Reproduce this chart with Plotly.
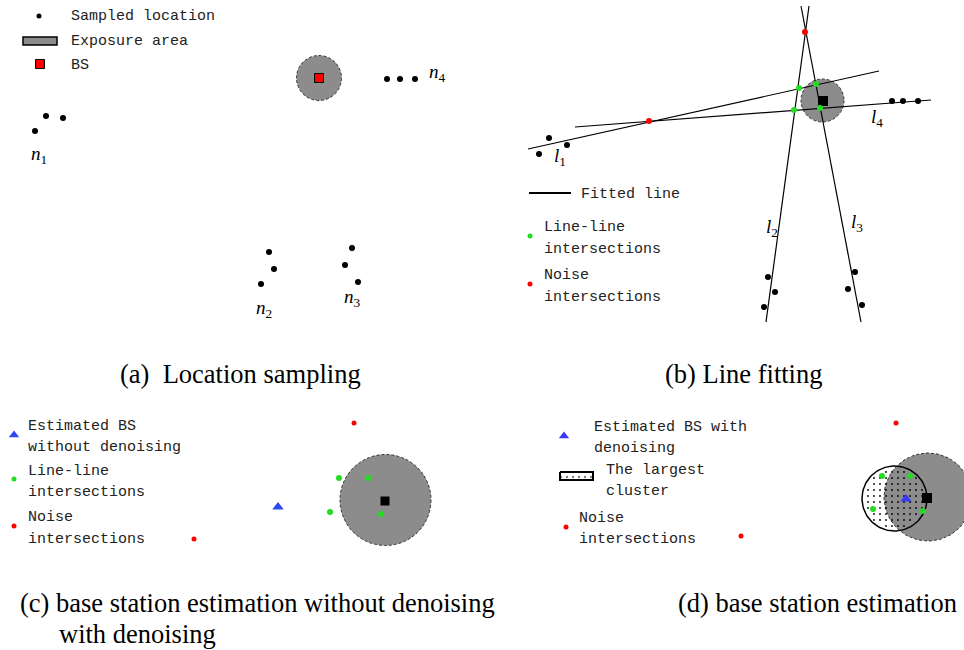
import numpy as np
import plotly.graph_objects as go

# ---------------- data (pixel-space diagram coordinates) ----------------
# Panel (a): sampled locations per node group
n1_x = [35, 46, 63]; n1_y = [131, 116, 118]
n2_x = [269, 274, 261]; n2_y = [252, 269, 284]
n3_x = [352, 345, 358]; n3_y = [248, 265, 282]
n4_x = [387, 400, 415]; n4_y = [79, 79, 79]
bs_a = (319, 78)
exposure_a = (319, 78, 22.5)
node_labels = [("n", "1", 29, 155), ("n", "2", 254, 309), ("n", "3", 342, 298), ("n", "4", 427, 73)]

# Panel (b): fitted lines (endpoints), samples, intersections
lines_b = {"l1": ((528, 149), (879, 71)), "l4": ((575, 127), (931, 100)),
           "l2": ((809, 6), (766, 322)), "l3": ((801, 6), (861, 322))}
samp_b_x = [549, 567, 539, 892, 903, 918, 768, 775, 764, 855, 848, 862]
samp_b_y = [138, 145, 154, 101, 101, 101, 277, 292, 307, 272, 289, 305]
green_b_x = [799, 816, 794, 820]; green_b_y = [88, 84, 110, 108]
red_b_x = [649, 805]; red_b_y = [121, 32]
bs_b = (823, 101)
exposure_b = (822.5, 100.5, 21.5)
line_labels = [("l", "1", 552, 157), ("l", "4", 869, 118), ("l", "2", 764, 228), ("l", "3", 849, 223)]

# Panel (c)
green_c_x = [339, 368, 330, 381]; green_c_y = [478, 478, 512, 514]
red_c_x = [354, 194]; red_c_y = [423, 539]
est_c = (278, 507)
bs_c = (385, 501)
exposure_c = (385.5, 500, 45.5)

# Panel (d)
green_d_x = [882, 910, 873, 923]; green_d_y = [476, 476, 509, 511]
red_d_x = [896, 741]; red_d_y = [423, 536]
est_d = (906, 499)
bs_d = (927, 498)
exposure_d = (928, 497, 44)
cluster_d = (894.5, 498.5, 32.5)

# Legend texts (text, x, y)
legend_texts = [
    ("Sampled location", 69, 16), ("Exposure area", 69, 41), ("BS", 69, 65),
    ("Fitted line", 579, 194), ("Line-line", 542, 227), ("intersections", 542, 249),
    ("Noise", 542, 275), ("intersections", 542, 297),
    ("Estimated BS", 26, 426), ("without denoising", 26, 447), ("Line-line", 26, 471),
    ("intersections", 26, 492), ("Noise", 26, 517), ("intersections", 26, 539),
    ("Estimated BS with", 592, 427), ("denoising", 592, 448), ("The largest", 604, 470),
    ("cluster", 604, 491), ("Noise", 577, 518), ("intersections", 577, 539),
]
captions = [("(a)&nbsp; Location sampling", 118, 374), ("(b) Line fitting", 663, 374),
            ("(c) base station estimation without denoising", 18, 603),
            ("with denoising", 57, 634), ("(d) base station estimation", 676, 603)]

# legend marker positions
leg_dot_a = (39, 16); leg_rect_a = (23, 37, 57, 45); leg_bs_a = (40, 64)
leg_line_b = ((529, 193), (571, 193)); leg_green_b = (530, 236); leg_red_b = (530, 284)
leg_tri_c = (14, 435); leg_green_c = (14, 479); leg_red_c = (14, 526)
leg_tri_d = (564, 436); leg_rect_d = (560, 472, 593, 480); leg_red_d = (566, 527)

GREEN = "#22dd22"; RED = "#ff0000"; GRAY = "#8c8c8c"; BLUE = "#2b48f0"
DOT_STEP = 6  # spacing of the stipple texture of the largest cluster

fig = go.Figure()

def dots(x, y, color, size=6, symbol="circle", line=None):
    m = dict(color=color, size=size, symbol=symbol)
    if line:
        m["line"] = line
    fig.add_trace(go.Scatter(x=list(x), y=list(y), mode="markers", marker=m,
                             hoverinfo="skip", showlegend=False))

def seg(p0, p1, width=1.2):
    fig.add_trace(go.Scatter(x=[p0[0], p1[0]], y=[p0[1], p1[1]], mode="lines",
                             line=dict(color="black", width=width),
                             hoverinfo="skip", showlegend=False))

def exposure(c):
    cx, cy, r = c
    fig.add_shape(type="circle", x0=cx - r, x1=cx + r, y0=cy - r, y1=cy + r,
                  fillcolor=GRAY, line=dict(color="#333", width=1, dash="3px,2px"), layer="below")

def circ(c, n=121):
    cx, cy, r = c
    t = np.linspace(0, 2 * np.pi, n)
    return cx + r * np.cos(t), cy + r * np.sin(t)

patt = dict(shape=".", fgcolor="black", bgcolor="white", size=6, solidity=0.12)

# ---- panel (a)
exposure(exposure_a)
fig.add_shape(type="rect", x0=leg_rect_a[0], y0=leg_rect_a[1], x1=leg_rect_a[2], y1=leg_rect_a[3],
              fillcolor=GRAY, line=dict(color="black", width=1.5))
dots([leg_dot_a[0]], [leg_dot_a[1]], "black", 5)
dots([leg_bs_a[0]], [leg_bs_a[1]], RED, 9, "square", dict(color="black", width=1))
dots(n1_x + n2_x + n3_x + n4_x, n1_y + n2_y + n3_y + n4_y, "black", 6)
dots([bs_a[0]], [bs_a[1]], RED, 9, "square", dict(color="black", width=1))

# ---- panel (b)
exposure(exposure_b)
for k, (p0, p1) in lines_b.items():
    seg(p0, p1)
seg(*leg_line_b, width=2)
dots(samp_b_x, samp_b_y, "black", 6)
dots([bs_b[0]], [bs_b[1]], "black", 10, "square")
dots(green_b_x, green_b_y, GREEN, 6)
dots(red_b_x, red_b_y, RED, 6)
dots([leg_green_b[0]], [leg_green_b[1]], GREEN, 5)
dots([leg_red_b[0]], [leg_red_b[1]], RED, 5)

# ---- panel (c)
exposure(exposure_c)
dots([bs_c[0]], [bs_c[1]], "black", 9, "square")
dots(green_c_x, green_c_y, GREEN, 6)
dots(red_c_x, red_c_y, RED, 5)
dots([est_c[0]], [est_c[1]], BLUE, 10, "triangle-up")
dots([leg_tri_c[0]], [leg_tri_c[1]], BLUE, 9, "triangle-up")
dots([leg_green_c[0]], [leg_green_c[1]], GREEN, 5)
dots([leg_red_c[0]], [leg_red_c[1]], RED, 5)

# ---- panel (d)
# cluster: white under-fill, then exposure circle, then stipple + outline on top
kx, ky = circ(cluster_d)
fig.add_trace(go.Scatter(x=kx, y=ky, mode="lines", fill="toself", fillcolor="white",
                         line=dict(width=0), hoverinfo="skip", showlegend=False))
gx, gy = circ(exposure_d)
fig.add_trace(go.Scatter(x=gx, y=gy, mode="lines", fill="toself", fillcolor=GRAY,
                         line=dict(color="#333", width=1, dash="3px,2px"),
                         hoverinfo="skip", showlegend=False))
ccx, ccy, cr = cluster_d
grid = np.arange(-cr, cr + 0.1, DOT_STEP)
GX, GY = np.meshgrid(grid, grid)
inside = GX ** 2 + GY ** 2 < (cr - 2.5) ** 2
fig.add_trace(go.Scatter(x=(ccx + GX[inside]), y=(ccy + GY[inside]), mode="markers",
                         marker=dict(color="black", size=1.8), hoverinfo="skip", showlegend=False))
fig.add_trace(go.Scatter(x=kx, y=ky, mode="lines", line=dict(color="black", width=1.5),
                         hoverinfo="skip", showlegend=False))
rx0, ry0, rx1, ry1 = leg_rect_d
fig.add_trace(go.Scatter(x=[rx0, rx1, rx1, rx0, rx0], y=[ry0, ry0, ry1, ry1, ry0], mode="lines",
                         fill="toself", fillcolor="white", fillpattern=patt,
                         line=dict(color="black", width=2), hoverinfo="skip", showlegend=False))
dots([bs_d[0]], [bs_d[1]], "black", 10, "square")
dots(green_d_x, green_d_y, GREEN, 6)
dots(red_d_x, red_d_y, RED, 5)
dots([est_d[0]], [est_d[1]], "#3a3af5", 10, "triangle-up")
dots([leg_tri_d[0]], [leg_tri_d[1]], "#3a3af5", 9, "triangle-up")
dots([leg_red_d[0]], [leg_red_d[1]], RED, 5)

# ---- texts
for txt, x, y in legend_texts:
    fig.add_annotation(x=x, y=y, text=txt, showarrow=False, xanchor="left", yanchor="middle",
                       font=dict(family="Liberation Mono", size=15, color="#222"))
for base, sub, x, y in node_labels + line_labels:
    fig.add_annotation(x=x, y=y, text=f"<i>{base}</i><sub>{sub}</sub>", showarrow=False,
                       xanchor="left", yanchor="middle",
                       font=dict(family="Liberation Serif", size=19, color="black"))
for txt, x, y in captions:
    fig.add_annotation(x=x, y=y, text=txt, showarrow=False, xanchor="left", yanchor="middle",
                       font=dict(family="Liberation Serif", size=26.5, color="black"))

fig.update_layout(width=964, height=650, margin=dict(l=0, r=0, t=0, b=0),
                  paper_bgcolor="white", plot_bgcolor="white",
                  xaxis=dict(range=[0, 964], visible=False, fixedrange=True),
                  yaxis=dict(range=[650, 0], visible=False, fixedrange=True))
fig.write_html("out.html")
